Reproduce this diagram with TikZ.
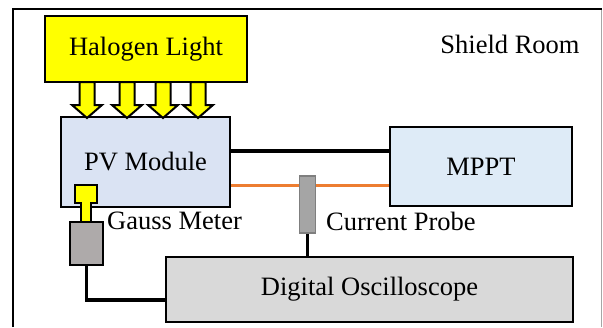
\documentclass[tikz,border=0pt]{standalone}
\usepackage{fontspec}
\setmainfont{Liberation Serif}
\newfontfamily\figfont{Liberation Serif}
\definecolor{halo}{HTML}{FFFF00}
\definecolor{pvfill}{HTML}{DAE3F3}
\definecolor{mpptfill}{HTML}{DEEBF7}
\definecolor{oscfill}{HTML}{D9D9D9}
\definecolor{gaussfill}{HTML}{AEAAAA}
\definecolor{probefill}{HTML}{A5A5A5}
\definecolor{probeline}{HTML}{7F7F7F}
\definecolor{wireorange}{HTML}{ED7D31}
\tikzset{
  box/.style={draw=black, line width=2.5pt, rectangle, inner sep=0pt, font=\figfont\fontsize{26.5}{30}\selectfont},
  lbl/.style={inner sep=0pt, font=\figfont\fontsize{26.5}{30}\selectfont},
  wire/.style={draw=black, line width=3.5pt},
  owire/.style={draw=wireorange, line width=3pt},
  beam/.style={draw=black, fill=halo, line width=2pt, line join=miter},
}
\begin{document}
\begin{tikzpicture}[x=1pt,y=-1pt]
\useasboundingbox (0,0) rectangle (603,327);
% shield room frame
\draw[black, line width=2pt] (13,327) -- (13,9) -- (602,9);
\draw[gray!70, line width=1pt] (601,10) -- (601,327);
\node[lbl, anchor=base] (shield) at (510,53) {Shield Room};

% boxes
\node[box, fill=halo, minimum width=202pt, minimum height=66pt] (halogen) at (146,49) {Halogen Light};
\node[box, fill=pvfill, minimum width=169pt, minimum height=90pt] (pv) at (145.5,162) {PV Module};
\node[box, fill=mpptfill, minimum width=182pt, minimum height=79pt] (mppt) at (481,166.5) {MPPT};
\node[box, fill=oscfill, minimum width=407pt, minimum height=65pt] (osc) at (369.5,289.5) {Digital Oscilloscope};

% light beams
\foreach \cx in {87,127,163,198}{
  \draw[beam] (\cx-7.5,82) -- (\cx+7.5,82) -- (\cx+7.5,105) -- (\cx+15,105) -- (\cx,118) -- (\cx-15,105) -- (\cx-7.5,105) -- cycle;
}

% wires between PV and MPPT
\draw[wire] (pv.east |- 0,151) -- (mppt.west |- 0,151);
\draw[owire] (pv.east |- 0,185) -- (mppt.west |- 0,185);

% current probe
\node[draw=probeline, fill=probefill, line width=1.5pt, minimum width=16pt, minimum height=57pt, inner sep=0pt] (probe) at (307.5,204.5) {};
\draw[wire] (probe.south) -- (probe.south |- osc.north);
\node[lbl, anchor=base west] (cplabel) at (326,230) {Current Probe};

% gauss meter
\draw[black, fill=halo, line width=2pt] (75,185) -- (97,185) -- (97,203) -- (91,203) -- (91,222) -- (81,222) -- (81,203) -- (75,203) -- cycle;
\node[draw=black, fill=gaussfill, line width=2.5pt, minimum width=33pt, minimum height=43pt, inner sep=0pt] (gauss) at (86.5,243.5) {};
\draw[wire] (gauss.south) |- (osc.west |- 0,300);
\node[lbl, anchor=base west] (gmlabel) at (107,229) {Gauss Meter};
\end{tikzpicture}
\end{document}
